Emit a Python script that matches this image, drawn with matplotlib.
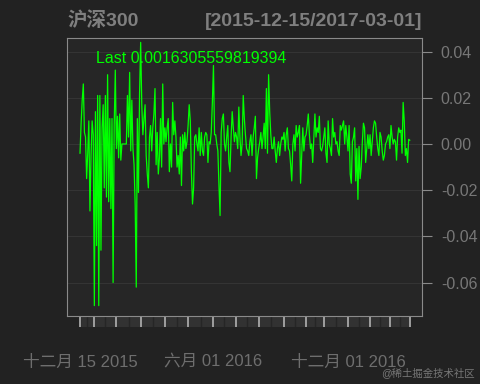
import numpy as np
import matplotlib.pyplot as plt

plt.rcParams['font.family'] = ['Liberation Sans', 'Noto Sans CJK SC']
plt.rcParams['axes.unicode_minus'] = False

title = '沪深300'
date_range = '[2015-12-15/2017-03-01]'

# daily returns (holiday week in Feb 2016 is flat at 0)
returns = [
    -0.004, 0.009, 0.019, 0.026, 0.005, 0.003, -0.015, -0.004, 0.010, -0.029,
    -0.005, 0.010, 0.004, -0.070, 0.014, -0.044, 0.021, -0.070, 0.021, -0.046,
    0.007, 0.017, -0.019, 0.021, -0.023, 0.030, -0.025, 0.011, -0.028, 0.011,
    -0.060, 0.008, 0.032, -0.002, 0.012, -0.006, 0.013, -0.007, 0.0, 0.0,
    0.0, 0.0, 0.0,
    0.021, 0.003, 0.031, -0.003, 0.019, -0.002,
    -0.009, -0.026, -0.062, 0.011, -0.021, 0.022, 0.044, 0.017, 0.004, 0.011,
    0.017, -0.005, -0.013, -0.019, 0.003, 0.008, -0.003, 0.007, 0.013, 0.024,
    -0.009, 0.005, -0.013, -0.006, 0.011, -0.010, 0.026, 0.0, 0.007, 0.001,
    0.007, 0.011, -0.012, 0.0, -0.010, 0.018, 0.004, 0.010, 0.003, -0.010,
    -0.005, -0.013, 0.003, -0.018, 0.004, -0.003, 0.005, -0.002, 0.001, 0.008,
    0.017, 0.010, -0.012, -0.026, -0.019, 0.003, 0.004, 0.0, -0.003, 0.007,
    -0.005, 0.005, -0.003, -0.005, 0.003, 0.005, 0.004, -0.008, 0.001, 0.0,
    0.005, 0.018, 0.034, 0.004, 0.004, 0.0, -0.003, -0.018, -0.031, 0.005,
    0.011, 0.013, 0.0, -0.003, 0.003, 0.008, -0.008, -0.012, 0.003, 0.014,
    0.007, 0.001, 0.005, 0.003, -0.002, 0.016, 0.003, -0.005, 0.0, 0.021,
    0.011,
    0.004, -0.002, -0.003, -0.005, 0.001, 0.004, -0.005, 0.003, 0.007, 0.012,
    -0.015, -0.006, -0.002, 0.001, 0.005, -0.002, 0.003, 0.009, -0.002, 0.024,
    -0.004, 0.030, 0.014, 0.004, -0.002, -0.002, 0.003, -0.003, -0.008, -0.002,
    0.001, -0.005, 0.0, 0.003, 0.002, 0.005, -0.003, 0.004, 0.007, -0.002,
    -0.003, -0.009, -0.016, 0.0, 0.004, -0.003, 0.008, 0.003, 0.005, 0.008,
    -0.017, -0.005, 0.007, -0.003, 0.003, 0.004, 0.008, 0.013, 0.004, -0.002,
    0.0, -0.008, 0.003, 0.013, 0.003, 0.007, 0.005, 0.012, -0.002, -0.003,
    -0.001, 0.003, 0.007, -0.004, -0.008, 0.010, 0.0, -0.002, -0.005, 0.011,
    0.003, 0.005, 0.0, 0.001, -0.003, -0.005, 0.008, 0.006, 0.008, 0.010,
    0.0, 0.008, 0.003, -0.003, 0.008, -0.013, -0.017, 0.001,
    0.003, 0.007,
    -0.016, -0.002, -0.024, -0.001, -0.015, -0.010, 0.001, 0.009, 0.007, -0.008,
    -0.002, 0.004, -0.002, 0.004, -0.005, 0.001, 0.007, 0.010, 0.009, 0.003,
    -0.002, -0.005, 0.005, 0.003, -0.003, -0.007, -0.005, 0.0, 0.001, 0.003,
    0.004, -0.002, 0.008, 0.003, 0.0, 0.002, 0.001, -0.007, 0.003, 0.007,
    0.005, 0.006, -0.004, 0.018, 0.010, -0.005, -0.002, -0.008, 0.002,
    0.0016305559819394,
]

# first trading day of each month (index into returns)
month_idx = [0, 13, 33, 55, 77, 98, 121, 141, 162, 185, 205, 221, 243, 263, 281, 299]
label_idx = [0, 121, 243]
labels = ['十二月 15 2015', '六月 01 2016', '十二月 01 2016']
yticks = [-0.06, -0.04, -0.02, 0.00, 0.02, 0.04]

xlim = (-11.8, 310.1)
bg = '#222222'
fig = plt.figure(figsize=(4.8, 3.84), dpi=100, facecolor=bg)

# month strip under the panel
sax = fig.add_axes([67/480, 57/384, 355/480, 11/384])
sax.set_facecolor('#323232')
for s in sax.spines.values():
    s.set_visible(False)
sax.set_yticks([])
for a, b in zip(month_idx[:-1], month_idx[1:]):
    sax.axvline((a + b) / 2, color='#262626', lw=1)
for i in month_idx:
    sax.axvline(i, color='#a8a8a8', lw=1.3)
sax.axvspan(xlim[0], month_idx[0], color=bg)
sax.axvspan(month_idx[-1], xlim[1], color=bg)
sax.set_xlim(xlim)
sax.set_xticks(label_idx)
sax.set_xticklabels(labels)
sax.tick_params(axis='x', length=0, pad=20, labelsize=12, labelcolor='#6e6e6e')

ax = fig.add_axes([67/480, 68/384, 355/480, 278/384])
ax.set_zorder(2)
ax.set_facecolor('#262626')

x = np.arange(len(returns))
ax.plot(x, returns, color='#00ff00', lw=0.9, zorder=3)
ax.set_xlim(xlim)
ax.set_ylim(-0.0745, 0.0459)

ax.yaxis.tick_right()
ax.set_yticks(yticks)
ax.set_yticklabels(['%.2f' % v for v in yticks])
ax.tick_params(axis='y', colors='#8a8a8a', labelcolor='#777777', length=7,
               width=0.8, pad=6.5, labelsize=11.5)
ax.set_xticks([])
ax.grid(axis='y', color='#343434', lw=0.8)
for s in ax.spines.values():
    s.set_color('#8a8a8a')
    s.set_linewidth(0.8)

ax.text(0.0817, 0.928, 'Last %s' % returns[-1], transform=ax.transAxes,
        color='#00ff00', fontsize=11.5, va='center', zorder=4)

fig.text(67/480, 1 - 21/384, title, fontsize=14, fontweight='bold',
         color='#7f7f7f', va='center', ha='left')
fig.text(422/480, 1 - 21/384, date_range, fontsize=14, fontweight='bold',
         color='#7f7f7f', va='center', ha='right')
fig.text(475/480, 1 - 373/384, '@稀土掘金技术社区', fontsize=7.5,
         color='#777777', va='center', ha='right')

fig.savefig('out.png', dpi=100, facecolor=bg)
